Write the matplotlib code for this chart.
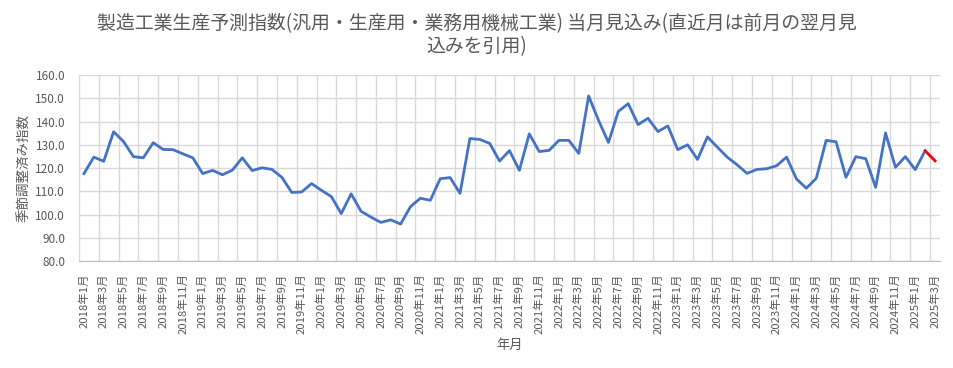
import matplotlib
matplotlib.use("Agg")
import matplotlib.pyplot as plt
import numpy as np

plt.rcParams['font.family'] = ['Noto Sans CJK JP', 'DejaVu Sans']

# monthly index, 2018-01 .. 2025-03
years = [2018] * 12 + [2019] * 12 + [2020] * 12 + [2021] * 12 + [2022] * 12 + [2023] * 12 + [2024] * 12 + [2025] * 3
months = list(range(1, 13)) * 7 + [1, 2, 3]
values = [
    117.6, 124.7, 122.9, 135.6, 131.4, 124.9, 124.4, 130.9, 128.0, 127.9, 126.1, 124.4,
    117.6, 119.0, 117.1, 119.1, 124.4, 118.9, 120.1, 119.4, 116.0, 109.5, 109.7, 113.3,
    110.4, 107.7, 100.4, 108.9, 101.4, 98.9, 96.6, 97.7, 95.9, 103.4, 107.0, 106.1,
    115.4, 115.9, 109.1, 132.7, 132.3, 130.6, 123.0, 127.5, 119.0, 134.7, 127.1, 127.6,
    131.9, 131.9, 126.3, 151.0, 140.5, 131.0, 144.4, 147.7, 138.7, 141.4, 135.7, 138.1,
    127.9, 130.0, 123.7, 133.4, 129.0, 124.7, 121.4, 117.7, 119.4, 119.7, 121.0, 124.7,
    115.3, 111.3, 115.6, 131.9, 131.3, 116.0, 124.9, 124.0, 111.7, 135.1, 120.3, 124.9,
    119.3, 127.4, 123.1,
]
labels = [f"{y}年{m}月" for y, m in zip(years, months)]

title = "製造工業生産予測指数(汎用・生産用・業務用機械工業) 当月見込み(直近月は前月の翌月見\n込みを引用)"
ylabel = "季節調整済み指数"
xlabel = "年月"

text_color = "#595959"
grid_color = "#d9d9d9"

fig = plt.figure(figsize=(9.54, 3.68), dpi=100)
ax = fig.add_axes([0.0828, 0.2908, 0.9025, 0.5052])

x = np.arange(len(values))
n_fc = 2  # last segment drawn in red
ax.plot(x[:-1], values[:-1], color="#4472C4", linewidth=2.0, solid_joinstyle="round", zorder=3)
ax.plot(x[-n_fc:], values[-n_fc:], color="#FF0000", linewidth=2.0, zorder=3)

ax.set_xlim(-0.5, len(values) - 0.5)
ax.set_ylim(80, 160)
ax.set_yticks(np.arange(80, 161, 10))
ax.set_yticklabels([f"{v:.1f}" for v in np.arange(80, 161, 10)])

ax.set_xticks(x[::2])
ax.set_xticklabels(labels[::2], rotation=90)
ax.set_xticks(np.arange(-0.5, len(values) - 0.5, 2), minor=True)

ax.grid(axis="y", color=grid_color, linewidth=1.0)
ax.grid(axis="x", which="minor", color=grid_color, linewidth=1.0)
ax.set_axisbelow(True)

ax.tick_params(axis="both", which="both", length=0, colors=text_color)
ax.tick_params(axis="x", labelsize=8.2, pad=9)
ax.tick_params(axis="y", labelsize=8.5, pad=10)

for s in ["top", "right"]:
    ax.spines[s].set_visible(False)
ax.spines["left"].set_color(grid_color)
ax.spines["bottom"].set_color("#bfbfbf")

ax.set_ylabel(ylabel, color=text_color, fontsize=9.7, labelpad=3)
ax.set_xlabel(xlabel, color=text_color, fontsize=9.5, labelpad=3)

fig.text(0.5, 0.965, title, ha="center", va="top", fontsize=13.6, color=text_color, linespacing=1.15)

fig.savefig("out.png", dpi=100)
